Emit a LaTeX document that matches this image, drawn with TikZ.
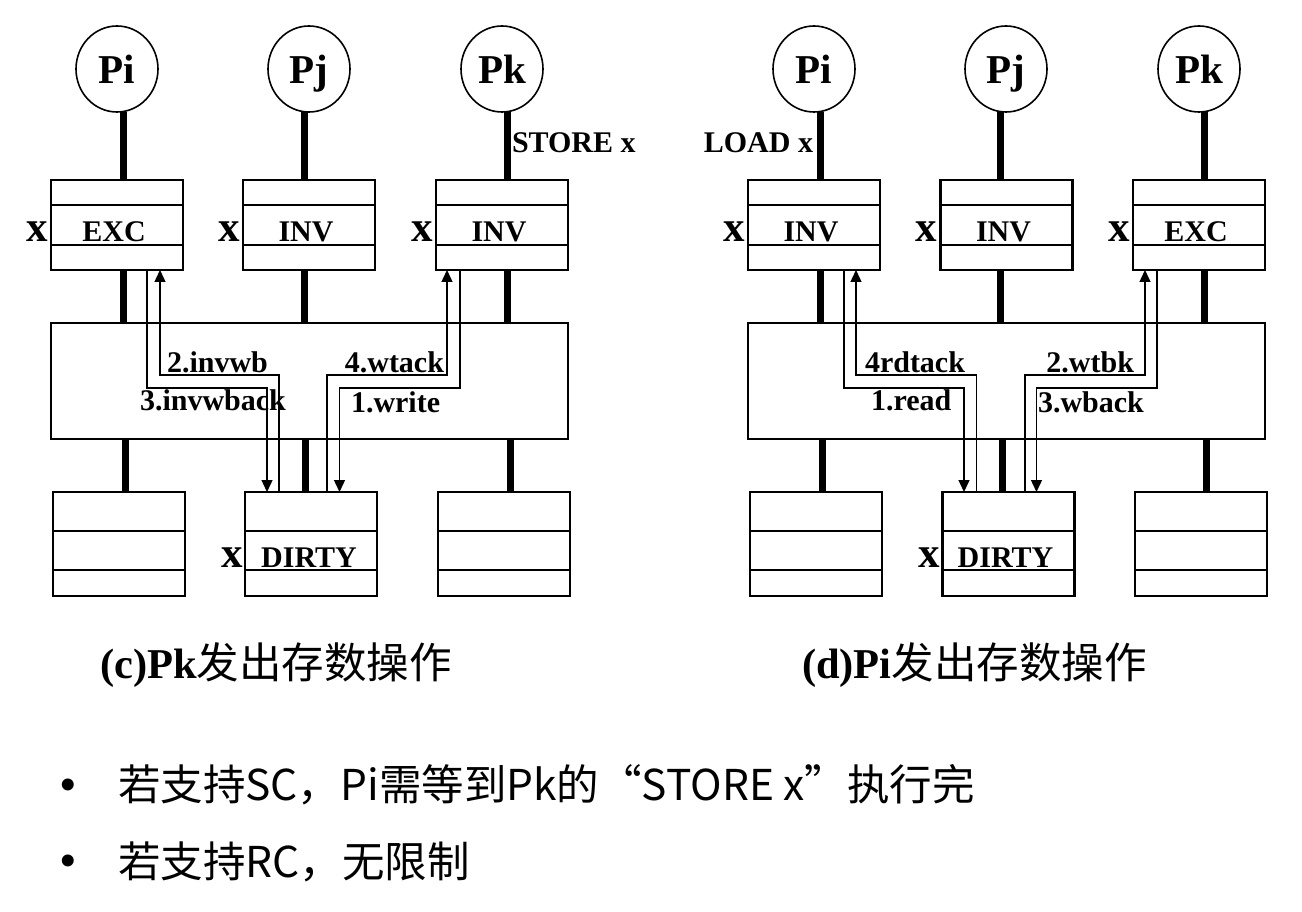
\documentclass[tikz,border=0pt]{standalone}
\usepackage{fontspec}
\setmainfont{Liberation Serif}
\newfontfamily\cjk{Noto Sans CJK SC}
\usetikzlibrary{calc,arrows.meta,shapes.geometric}

\begin{document}
\begin{tikzpicture}[x=1pt, y=-1pt,
    proc/.style={draw, ellipse, line width=1.6pt, minimum width=82, minimum height=86, text depth=0pt,
      font=\fontsize{41}{41}\selectfont\bfseries},
    cachebox/.style={draw, line width=2.2pt, minimum width=132, minimum height=90,
      path picture={
        \draw [line width=2.2pt] ([yshift=-25pt]path picture bounding box.north west) -- ([yshift=-25pt]path picture bounding box.north east);
        \draw [line width=2.2pt] ([yshift=-65pt]path picture bounding box.north west) -- ([yshift=-65pt]path picture bounding box.north east);
      }},
    membox/.style={draw, line width=2.2pt, minimum width=132, minimum height=104,
      path picture={
        \draw [line width=2.2pt] ([yshift=-39pt]path picture bounding box.north west) -- ([yshift=-39pt]path picture bounding box.north east);
        \draw [line width=2.2pt] ([yshift=-78pt]path picture bounding box.north west) -- ([yshift=-78pt]path picture bounding box.north east);
      }},
    netbox/.style={draw, line width=2.2pt, minimum width=517, minimum height=116},
    bus/.style={line width=7pt},
    flow/.style={line width=1.4pt, -{Triangle[length=12pt, width=11pt]}},
    tag/.style={font=\fontsize{30}{30}\selectfont\bfseries},
    var/.style={font=\fontsize{43}{43}\selectfont\bfseries, anchor=base east},
    note/.style={font=\fontsize{42.5}{42.5}\selectfont, anchor=base west},
    dot/.style={font=\fontsize{50}{50}\selectfont, anchor=base}]
    \tikzstyle{every node}+=[inner sep=0pt, outer sep=0pt]
    \useasboundingbox (0,0) rectangle (1302,912);
    % (c) Pk stores x
    \node [proc] (pL1) at (117,69) {Pi};
    \node [proc] (pL2) at (309,69) {Pj};
    \node [proc] (pL3) at (502,69) {Pk};
    \node [cachebox] (cL1) at (117,225) {};
    \node [cachebox] (cL2) at (309,225) {};
    \node [cachebox] (cL3) at (502,225) {};
    \node [netbox] (netL) at (309.5,381) {};
    \node [membox] (mL1) at (119,544) {};
    \node [membox] (mL2) at (311,544) {};
    \node [membox] (mL3) at (504,544) {};
    \coordinate (vL1) at (123,0);
    \coordinate (vL2) at (304,0);
    \coordinate (vL3) at (507,0);
    \coordinate (wL1) at (125,0);
    \coordinate (wL2) at (305.5,0);
    \coordinate (wL3) at (510,0);
    \draw [bus] (pL1.south -| vL1) -- (cL1.north -| vL1);
    \draw [bus] (pL2.south -| vL2) -- (cL2.north -| vL2);
    \draw [bus] (pL3.south -| vL3) -- (cL3.north -| vL3);
    \draw [bus] (cL1.south -| vL1) -- (netL.north -| vL1);
    \draw [bus] (cL2.south -| vL2) -- (netL.north -| vL2);
    \draw [bus] (cL3.south -| vL3) -- (netL.north -| vL3);
    \draw [bus] (netL.south -| wL1) -- (mL1.north -| wL1);
    \draw [bus] (netL.south -| wL2) -- (mL2.north -| wL2);
    \draw [bus] (netL.south -| wL3) -- (mL3.north -| wL3);
    \node [tag, anchor=base] (tL1) at (114,242) {EXC};
    \node [tag, anchor=base] (tL2) at (306,242) {INV};
    \node [tag, anchor=base] (tL3) at (499,242) {INV};
    \node [tag, anchor=base] (tL4) at (309,567) {DIRTY};
    \node [var] (xL1) at (48,242) {x};
    \node [var] (xL2) at (240,242) {x};
    \node [var] (xL3) at (433,242) {x};
    \node [var] (xL4) at (243,567) {x};
    \node [tag, anchor=base west] (sL) at (512,153) {STORE x};
    \draw [flow] ($(cL1.south)+(30,0)$) -- ++(0,118) -| ($(mL2.north)+(-44,0)$);
    \draw [flow] ($(mL2.north)+(-32,0)$) -- ++(0,-117) -| ($(cL1.south)+(43,0)$);
    \draw [flow] ($(mL2.north)+(16,0)$) -- ++(0,-117) -| ($(cL3.south)+(-55,0)$);
    \draw [flow] ($(cL3.south)+(-42,0)$) -- ++(0,118) -| ($(mL2.north)+(28.5,0)$);
    \node [tag, anchor=base west] (lL1) at (167,372) {2.invwb};
    \node [tag, anchor=base west] (lL2) at (140,410) {3.invwback};
    \node [tag, anchor=base east] (lL3) at (444,372) {4.wtack};
    \node [tag, anchor=base west] (lL4) at (351,412) {1.write};
    \node [note] (capL) at (100,678) {\textbf{(c)Pk}{\cjk 发出存数操作}};
    % (d) Pi loads x
    \node [proc] (pR1) at (814,69) {Pi};
    \node [proc] (pR2) at (1006,69) {Pj};
    \node [proc] (pR3) at (1199,69) {Pk};
    \node [cachebox] (cR1) at (814,225) {};
    \node [cachebox] (cR2) at (1006.5,225) {};
    \node [cachebox] (cR3) at (1199,225) {};
    \node [netbox] (netR) at (1006.5,381) {};
    \node [membox] (mR1) at (816,544) {};
    \node [membox] (mR2) at (1008.5,544) {};
    \node [membox] (mR3) at (1201,544) {};
    \coordinate (vR1) at (820,0);
    \coordinate (vR2) at (1000,0);
    \coordinate (vR3) at (1204,0);
    \coordinate (wR1) at (822,0);
    \coordinate (wR2) at (1002,0);
    \coordinate (wR3) at (1206,0);
    \draw [bus] (pR1.south -| vR1) -- (cR1.north -| vR1);
    \draw [bus] (pR2.south -| vR2) -- (cR2.north -| vR2);
    \draw [bus] (pR3.south -| vR3) -- (cR3.north -| vR3);
    \draw [bus] (cR1.south -| vR1) -- (netR.north -| vR1);
    \draw [bus] (cR2.south -| vR2) -- (netR.north -| vR2);
    \draw [bus] (cR3.south -| vR3) -- (netR.north -| vR3);
    \draw [bus] (netR.south -| wR1) -- (mR1.north -| wR1);
    \draw [bus] (netR.south -| wR2) -- (mR2.north -| wR2);
    \draw [bus] (netR.south -| wR3) -- (mR3.north -| wR3);
    \node [tag, anchor=base] (tR1) at (811,242) {INV};
    \node [tag, anchor=base] (tR2) at (1003.5,242) {INV};
    \node [tag, anchor=base] (tR3) at (1196,242) {EXC};
    \node [tag, anchor=base] (tR4) at (1005.5,567) {DIRTY};
    \node [var] (xR1) at (745,242) {x};
    \node [var] (xR2) at (937,242) {x};
    \node [var] (xR3) at (1130,242) {x};
    \node [var] (xR4) at (940,567) {x};
    \node [tag, anchor=base east] (sR) at (813,153) {LOAD x};
    \draw [flow] ($(cR1.south)+(30,0)$) -- ++(0,118) -| ($(mR2.north)+(-44.5,0)$);
    \draw [flow] ($(mR2.north)+(-32,0)$) -- ++(0,-117) -| ($(cR1.south)+(42,0)$);
    \draw [flow] ($(mR2.north)+(16.5,0)$) -- ++(0,-117) -| ($(cR3.south)+(-54,0)$);
    \draw [flow] ($(cR3.south)+(-42,0)$) -- ++(0,118) -| ($(mR2.north)+(28,0)$);
    \node [tag, anchor=base west] (lR1) at (865,372) {4rdtack};
    \node [tag, anchor=base west] (lR2) at (871,410) {1.read};
    \node [tag, anchor=base east] (lR3) at (1134,372) {2.wtbk};
    \node [tag, anchor=base west] (lR4) at (1038,412) {3.wback};
    \node [note] (capR) at (802,678) {\textbf{(d)Pi}{\cjk 发出存数操作}};
    % remarks
    \node [dot] (b1) at (68,801) {\textbullet};
    \node [dot] (b2) at (68,877) {\textbullet};
    \node [note] (n1) at (118,800) {\cjk 若支持SC，Pi需等到Pk的“STORE x”执行完};
    \node [note] (n2) at (118,877) {\cjk 若支持RC，无限制};
\end{tikzpicture}
\end{document}
